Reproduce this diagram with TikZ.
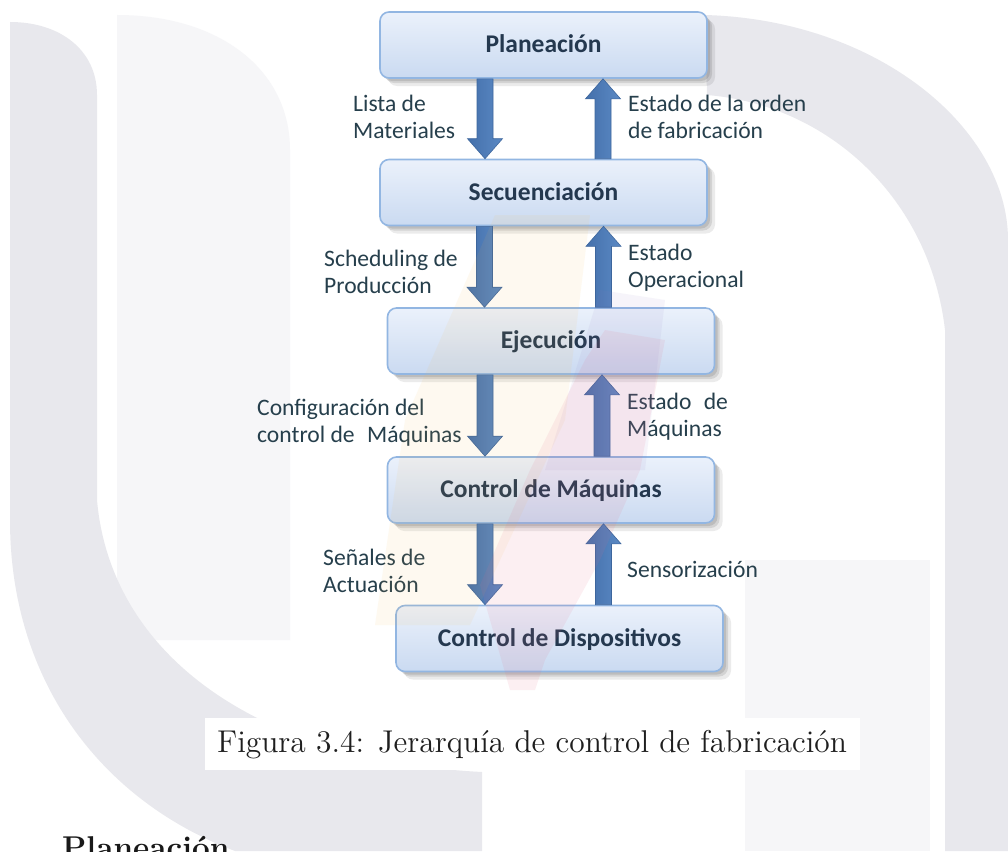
\documentclass[tikz,border=0pt]{standalone}
\usepackage{fontspec}
\newfontfamily\calibri{Carlito}
\newfontfamily\capfont{lmroman12-regular.otf}
\newfontfamily\capbold{lmroman12-bold.otf}
\usetikzlibrary{calc,shadows}
\definecolor{boxtop}{HTML}{EBF1FB}
\definecolor{boxbot}{HTML}{CADAF1}
\definecolor{boxborder}{HTML}{92B6E2}
\definecolor{boxtext}{HTML}{24384F}
\definecolor{labtext}{HTML}{263F4C}
\definecolor{arrL}{HTML}{4470AB}
\definecolor{arrR}{HTML}{5B89C4}
\definecolor{arrD}{HTML}{3D669D}
\definecolor{wmgray}{HTML}{E8E8ED}
\definecolor{wmlight}{HTML}{F6F6F8}
\definecolor{wmyellow}{HTML}{F7B84A}
\definecolor{wmpink}{HTML}{E46A86}
\definecolor{wmpurple}{HTML}{8E78C0}
\tikzset{
  boxnode/.style={rounded corners=9pt, draw=boxborder, line width=1.6pt,
    top color=boxtop, bottom color=boxbot,
    minimum width=327pt, minimum height=66pt,
    font=\calibri\bfseries\fontsize{25.5}{30}\selectfont, text=boxtext,
    text height=19pt, text depth=4pt,
    drop shadow={shadow xshift=3pt, shadow yshift=-3pt, fill=black, opacity=.10},
    drop shadow={shadow xshift=5pt, shadow yshift=-5pt, fill=black, opacity=.10},
    drop shadow={shadow xshift=8pt, shadow yshift=-8pt, fill=black, opacity=.08}},
  lab/.style={font=\calibri\fontsize{23.6}{27}\selectfont, text=labtext,
    align=left, anchor=base west, inner sep=0pt},
  arrfill/.style={left color=arrL, right color=arrR, draw=arrD, line width=.6pt},
}
\newcommand\downarr[3]{%
  \path[arrfill] let \p1=(#1.south), \p2=(#2.north) in
    ({(#3-8)*1pt},\y1) -- ({(#3+8)*1pt},\y1) -- ({(#3+8)*1pt},\y2+20pt)
    -- ({(#3+17.5)*1pt},\y2+20pt) -- ({#3*1pt},\y2) -- ({(#3-17.5)*1pt},\y2+20pt)
    -- ({(#3-8)*1pt},\y2+20pt) -- cycle;}
\newcommand\uparr[3]{%
  \path[arrfill] let \p1=(#1.south), \p2=(#2.north) in
    ({(#3-8)*1pt},\y2) -- ({(#3+8)*1pt},\y2) -- ({(#3+8)*1pt},\y1-20pt)
    -- ({(#3+17.5)*1pt},\y1-20pt) -- ({#3*1pt},\y1) -- ({(#3-17.5)*1pt},\y1-20pt)
    -- ({(#3-8)*1pt},\y1-20pt) -- cycle;}
\begin{document}
\begin{tikzpicture}[x=1pt,y=-1pt]
\useasboundingbox (0,0) rectangle (1008,851);
\clip (0,0) rectangle (1008,851);
\fill[white] (0,0) rectangle (1008,851);
% watermark background
\fill[wmlight] (117,15) .. controls (220,15) and (290,70) .. (290,150) -- (290,640) -- (117,640) -- cycle;
\fill[wmgray] (10,22) .. controls (60,22) and (97,50) .. (97,95) -- (97,500)
  .. controls (110,650) and (250,760) .. (482,772) -- (482,851) -- (235,851)
  .. controls (100,800) and (10,680) .. (10,520) -- cycle;
\fill[wmgray] (705,15) .. controls (880,20) and (1008,130) .. (1008,240) -- (1008,851)
  -- (945,851) -- (945,330) .. controls (930,200) and (830,105) .. (707,95) -- cycle;
\fill[wmlight] (745,560) -- (930,560) -- (930,851) -- (745,851) -- cycle;
\fill[white] (205,718) rectangle (860,770);
% boxes
\node[boxnode] (plan) at (543.5,45) {Planeación};
\node[boxnode] (sec)  at (543.5,192.5) {Secuenciación};
\node[boxnode] (eje)  at (551,341) {Ejecución};
\node[boxnode] (cmaq) at (551,490) {Control de Máquinas};
\node[boxnode] (cdis) at (559.5,638.5) {Control de Dispositivos};
% arrows
\downarr{plan}{sec}{485}
\uparr{plan}{sec}{603}
\downarr{sec}{eje}{484.5}
\uparr{sec}{eje}{603.5}
\downarr{eje}{cmaq}{485}
\uparr{eje}{cmaq}{602}
\downarr{cmaq}{cdis}{485}
\uparr{cmaq}{cdis}{603.5}
% labels (base = baseline of last line)
\node[lab] (l1) at (353,138) {Lista de\\Materiales};
\node[lab] (r1) at (628,138) {Estado de la orden\\de fabricación};
\node[lab] (l2) at (324,293) {Scheduling de\\Producción};
\node[lab] (r2) at (628,287) {Estado\\Operacional};
\node[lab] (l3) at (257,442) {Configuración del\\control de\hspace{0.3em} Máquinas};
\node[lab] (r3) at (627,436) {Estado\hspace{0.3em} de\\Máquinas};
\node[lab] (l4) at (323,592) {Señales de\\Actuación};
\node[lab] (r4) at (627,577) {Sensorización};
% tricolour watermark overlay
\fill[wmyellow, opacity=.08] (495,215) -- (590,215) -- (565,420) -- (470,625) -- (375,625) -- (405,420) -- cycle;
\fill[wmpurple, opacity=.08] (600,290) -- (665,300) -- (645,470) -- (545,470) -- (585,340) -- cycle;
\fill[wmpink, opacity=.10] (605,330) -- (665,340) -- (640,470) -- (600,560) -- (545,660) -- (535,690) -- (510,690) -- (480,585) -- (530,470) -- (585,360) -- cycle;
% caption and heading
\node[anchor=base west, inner sep=0pt, text=black!88, font=\capfont\fontsize{31.5}{36}\selectfont] (cap) at (217,752) {Figura 3.4: Jerarquía de control de fabricación};
\node[anchor=base west, inner sep=0pt, text=black!90, font=\capbold\fontsize{31.5}{36}\selectfont] (head) at (62,858) {Planeación};
\end{tikzpicture}
\end{document}
